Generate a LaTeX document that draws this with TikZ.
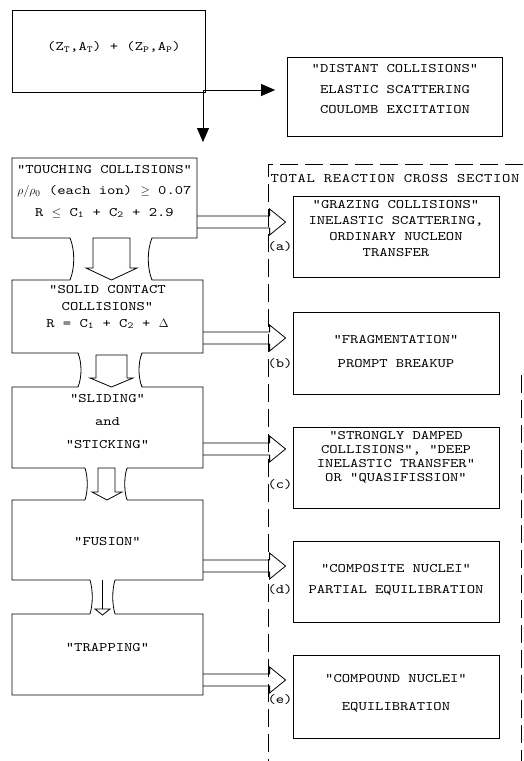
\documentclass[tikz,border=0pt]{standalone}
\usepackage{fontspec}
\setmonofont[FakeStretch=1.22]{lmmono10-regular.otf}
\usetikzlibrary{arrows.meta,calc}
\newcommand{\twfont}[1]{\ttfamily\fontsize{13}{#1}\selectfont}

\begin{document}
\begin{tikzpicture}[x=1pt, y=-1pt, line width=0.8pt, font=\twfont{16},
  txt/.style={align=center, inner sep=0pt},
  rbox/.style={draw, minimum width=206pt, inner sep=0pt},
  tag/.style={inner sep=0pt, font=\twfont{14}},
  solidarr/.style={-{Triangle[length=14pt, width=12pt]}},
  hollow/.style={to path={let \p1=(\tikztostart), \p2=(\tikztotarget) in
    (\x1,\y1+6pt) -- (\x2-23pt,\y1+6pt) -- (\x2-23pt,\y1+13pt) -- (\x2-7pt,\y1)
    -- (\x2-23pt,\y1-13pt) -- (\x2-23pt,\y1-6pt) -- (\x1,\y1-6pt)}},
  frame/.style={dash pattern=on 18pt off 7pt}]
\useasboundingbox (0,0) rectangle (523,761);
% nuclei
\node[draw, minimum width=193pt, minimum height=82pt, inner sep=0pt] (init) at (108.5,51) {};
\node[txt] (inittxt) at (114,47)
  {(Z\textsubscript{T},A\textsubscript{T}) + (Z\textsubscript{P},A\textsubscript{P})};
\node[rbox, minimum width=215pt, minimum height=79pt] (distant) at (395,96.5) {};
\node[txt, font=\twfont{20.5}] (distanttxt) at (395,89.5)
  {"DISTANT COLLISIONS"\\ ELASTIC SCATTERING\\ COULOMB EXCITATION};
\coordinate (split) at (203,90);
\draw[solidarr, shorten >=12pt] (split) -- (split -| distant.west);
\draw[solidarr, shorten >=16pt] (split) -- (split |- 0,158);
% left column, boxes with necks
\draw (12,158) -- (197,158) -- (197,238) -- (152,238)
  .. controls (147,250) and (147,268) .. (152,280) -- (203,280) -- (203,353) -- (142,353)
  .. controls (138,363) and (138,377) .. (142,387) -- (203,387) -- (203,468) -- (127,468)
  .. controls (124,477) and (124,491) .. (127,500) -- (203,500) -- (203,580) -- (115,580)
  .. controls (112,590) and (112,604) .. (115,614) -- (203,614) -- (203,695) -- (12,695)
  -- (12,614) -- (90,614) .. controls (93,604) and (93,590) .. (90,580) -- (12,580)
  -- (12,500) -- (85,500) .. controls (88,491) and (88,477) .. (85,468) -- (12,468)
  -- (12,387) -- (78,387) .. controls (82,377) and (82,363) .. (78,353) -- (12,353)
  -- (12,280) -- (70,280) .. controls (75,268) and (75,250) .. (70,238) -- (12,238) -- cycle;
\node[txt, font=\twfont{21.5}] (touch) at (104.5,191.5)
  {"TOUCHING COLLISIONS"\\ $\rho/\rho_0$ (each ion) $\geq$ 0.07\\
   R $\leq$ C\textsubscript{1} + C\textsubscript{2} + 2.9};
\node[txt, font=\twfont{17}] (solid) at (107.5,307)
  {"SOLID CONTACT\\ COLLISIONS"\\ R = C\textsubscript{1} + C\textsubscript{2} + $\Delta$};
\node[txt, font=\twfont{23}] (slide) at (107.5,422)
  {"SLIDING"\\ and\\ "STICKING"};
\node[txt] (fusion) at (107.5,542) {"FUSION"};
\node[txt] (trap) at (107.5,648) {"TRAPPING"};
% hollow arrows down
\draw (93,238) -- (93,268) -- (86,268) -- (111.5,280) -- (137,268) -- (130,268) -- (130,238) -- cycle;
\draw (96,355) -- (96,378) -- (90,378) -- (111.5,387) -- (133,378) -- (127,378) -- (127,355) -- cycle;
\draw (98,468) -- (98,492) -- (92,492) -- (107,500) -- (122,492) -- (115,492) -- (115,468) -- cycle;
\draw (102.5,580) -- (102.5,609);
\draw (95,609) -- (102.5,615) -- (110,609) -- cycle;
% total reaction cross section
\draw[frame] (523,164) -- (268,164) -- (268,761);
\draw[frame] (521,375) -- (521,761);
\node[txt, font=\twfont{16}\addfontfeature{LetterSpace=5}] (total) at (395,179)
  {TOTAL REACTION CROSS SECTION};
% outcomes
\node[rbox, minimum height=81pt] (graze) at (396,236.5) {};
\node[txt] (grazetxt) at (396,229)
  {"GRAZING COLLISIONS"\\ INELASTIC SCATTERING,\\ ORDINARY NUCLEON\\ TRANSFER};
\node[rbox, minimum height=82pt] (frag) at (396,353) {};
\node[txt, font=\twfont{24}] (fragtxt) at (396,352)
  {"FRAGMENTATION"\\ PROMPT BREAKUP};
\node[rbox, minimum height=81pt] (damp) at (396,467.5) {};
\node[txt, font=\twfont{14}] (damptxt) at (396,457)
  {"STRONGLY DAMPED\\ COLLISIONS", "DEEP\\ INELASTIC TRANSFER"\\ OR "QUASIFISSION"};
\node[rbox, minimum height=81pt] (compo) at (396,581.5) {};
\node[txt, font=\twfont{21}] (compotxt) at (396,579.5)
  {"COMPOSITE NUCLEI"\\ PARTIAL EQUILIBRATION};
\node[rbox, minimum height=83pt] (cmpd) at (396,696.5) {};
\node[txt, font=\twfont{28}] (cmpdtxt) at (396,693)
  {"COMPOUND NUCLEI"\\ EQUILIBRATION};
% hollow arrows right
\draw[hollow] (197,222) to (graze.west);
\draw[hollow] (203,338) to (frag.west);
\draw[hollow] (203,449) to (damp.west);
\draw[hollow] (203,566) to (compo.west);
\draw[hollow] (203,680) to (cmpd.west);
\node[tag] (la) at (280,247) {(a)};
\node[tag] (lb) at (280,364) {(b)};
\node[tag] (lc) at (280,485) {(c)};
\node[tag] (ld) at (280,590) {(d)};
\node[tag] (le) at (280,700) {(e)};
\end{tikzpicture}
\end{document}
